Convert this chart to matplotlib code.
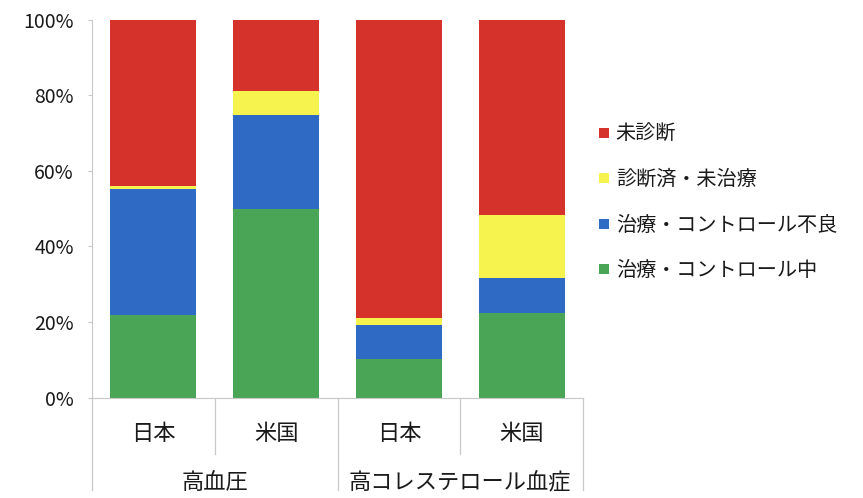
"""
Stacked 100% bar chart: 高血圧 / 高コレステロール血症 の診断・治療状況 (日本 vs 米国)
"""

import matplotlib
matplotlib.use('Agg')
from matplotlib import pyplot as plt
from matplotlib.lines import Line2D
from matplotlib.transforms import blended_transform_factory

plt.rcParams['font.family'] = ['Noto Sans CJK JP', 'DejaVu Sans']

countries = ['日本', '米国', '日本', '米国']
groups = ['高血圧', '高コレステロール血症']
series_names = ['未診断', '診断済・未治療', '治療・コントロール不良', '治療・コントロール中']

# values in %, bottom to top: green, blue, yellow, red
controlled = [21.9, 49.8, 10.2, 22.3]
poor_control = [33.2, 25.0, 9.0, 9.3]
untreated = [1.0, 6.3, 1.8, 16.7]
undiagnosed = [43.9, 18.9, 79.0, 51.7]

colors = {
    '未診断': '#d6322c',
    '診断済・未治療': '#f6f34e',
    '治療・コントロール不良': '#2f6bc4',
    '治療・コントロール中': '#4ba556',
}

fig = plt.figure(figsize=(8.63, 4.98), dpi=100)
ax = fig.add_axes([0.1066, 0.2014, 0.5690, 0.7594])

x = list(range(len(countries)))
stack = [
    ('治療・コントロール中', controlled),
    ('治療・コントロール不良', poor_control),
    ('診断済・未治療', untreated),
    ('未診断', undiagnosed),
]
bottom = [0.0] * len(x)
for name, vals in stack:
    ax.bar(x, vals, bottom=bottom, width=0.7, color=colors[name], linewidth=0)
    bottom = [b + v for b, v in zip(bottom, vals)]

ax.set_xlim(-0.5, 3.5)
ax.set_ylim(0, 100)
ax.set_yticks([0, 20, 40, 60, 80, 100])
ax.set_yticklabels(['0%', '20%', '40%', '60%', '80%', '100%'])
ax.tick_params(axis='y', length=3, color='#c8c8c8', pad=10, labelsize=14,
               labelcolor='#1a1a1a')
ax.set_xticks([])
for side in ['top', 'right']:
    ax.spines[side].set_visible(False)
ax.spines['left'].set_color('#c8c8c8')
ax.spines['bottom'].set_color('#c8c8c8')

# two-level category axis
trans = blended_transform_factory(ax.transData, ax.transAxes)
for xi, label in zip(x, countries):
    ax.text(xi, -0.095, label, transform=trans, ha='center', va='center',
            fontsize=16, color='#1a1a1a')
for gi, label in enumerate(groups):
    ax.text(gi * 2 + 0.5, -0.225, label, transform=trans, ha='center',
            va='center', fontsize=16, color='#1a1a1a')
for xs in [-0.5, 1.5, 3.5]:
    ax.plot([xs, xs], [0, -0.245], transform=trans, color='#c8c8c8',
            linewidth=0.9, clip_on=False)
for xs in [0.5, 2.5]:
    ax.plot([xs, xs], [0, -0.15], transform=trans, color='#c8c8c8',
            linewidth=0.9, clip_on=False)

handles = [Line2D([], [], marker='s', linestyle='none', markersize=7,
                  markeredgewidth=0, color=colors[n]) for n in series_names]
fig.legend(handles, series_names, loc='upper left',
           bbox_to_anchor=(0.682, 0.772), frameon=False, fontsize=14.5,
           labelspacing=1.22, handlelength=0.55, handletextpad=0.3,
           borderpad=0, labelcolor='#1a1a1a')

fig.savefig('out.png', dpi=100)
